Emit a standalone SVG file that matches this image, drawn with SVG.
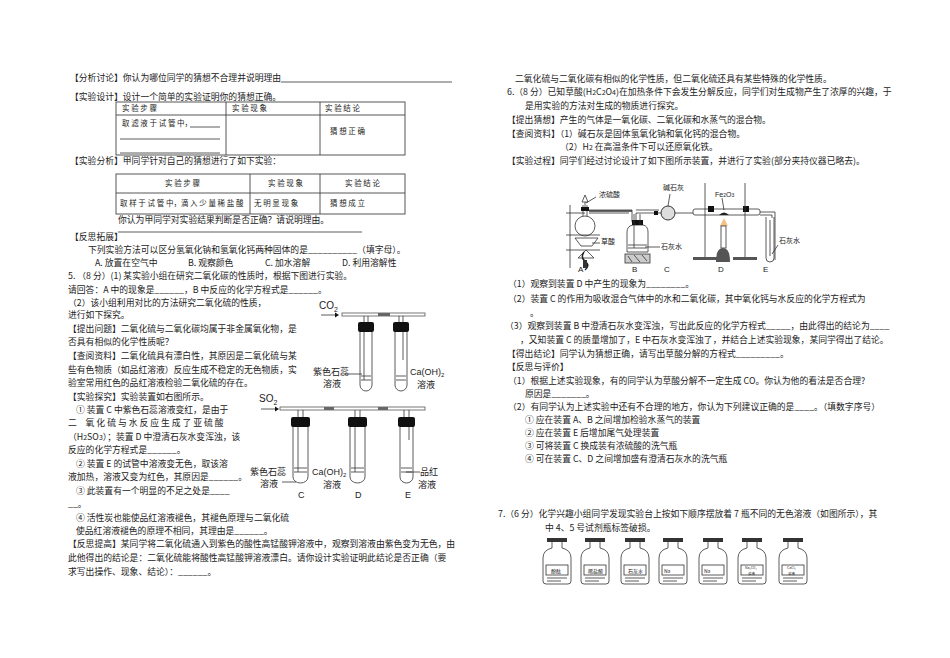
<svg xmlns="http://www.w3.org/2000/svg" width="950" height="658" viewBox="0 0 950 658">
<style>
text{font-family:"Noto Sans CJK SC","Liberation Serif",sans-serif;font-size:8.8px;fill:#222}
.s{font-size:7px}
.l{font-family:"Liberation Sans",sans-serif;font-size:10px}
.ln{stroke:#333;stroke-width:0.8;fill:none}
.tb{stroke:#444;stroke-width:0.9;fill:none}
.bk{fill:#111}
</style>
<rect width="950" height="658" fill="#fff"/>
<g id="left-text">
<text x="70" y="81">【分析讨论】你认为哪位同学的猜想不合理并说明理由</text>
<line class="ln" x1="281" y1="82" x2="452" y2="82"/>
<text x="70" y="100">【实验设计】设计一个简单的实验证明你的猜想正确。</text>
<text x="70" y="164">【实验分析】甲同学针对自己的猜想进行了如下实验：</text>
<text x="118" y="223">你认为甲同学对实验结果判断是否正确？请说明理由。</text>
<line class="ln" x1="118" y1="232" x2="362" y2="232"/>
<text x="70" y="240">【反思拓展】</text>
<text x="88" y="253">下列实验方法可以区分氢氧化钠和氢氧化钙两种固体的是__________（填字母）。</text>
<text x="95" y="266">A. 放置在空气中</text><text x="188" y="266">B. 观察颜色</text><text x="265" y="266">C. 加水溶解</text><text x="342" y="266">D. 利用溶解性</text>
<text x="68" y="279">5. （8 分）(1) 某实验小组在研究二氧化碳的性质时，根据下图进行实验。</text>
<text x="68" y="293">请回答：A 中的现象是______，B 中反应的化学方程式是______。</text>
<text x="68" y="306">（2）该小组利用对比的方法研究二氧化硫的性质，</text>
<text x="68" y="318">进行如下探究。</text>
<text x="68" y="332">【提出问题】二氧化硫与二氧化碳均属于非金属氧化物，是</text>
<text x="68" y="345">否具有相似的化学性质呢？</text>
<text x="68" y="359">【查阅资料】二氧化硫具有漂白性，其原因是二氧化硫与某</text>
<text x="68" y="373">些有色物质（如品红溶液）反应生成不稳定的无色物质，实</text>
<text x="68" y="386">验室常用红色的品红溶液检验二氧化硫的存在。</text>
<text x="68" y="400">【实验探究】实验装置如右图所示。</text>
<text x="76" y="413">① 装置 C 中紫色石蕊溶液变红，是由于</text>
<text x="68" y="426">二　氧 化 硫 与 水 反 应 生 成 了 亚 硫 酸</text>
<text x="68" y="440">（H<tspan class="s">2</tspan>SO<tspan class="s">3</tspan>）；装置 D 中澄清石灰水变浑浊，该</text>
<text x="68" y="453">反应的化学方程式是______。</text>
<text x="76" y="467">② 装置 E 的试管中溶液变无色，取该溶</text>
<text x="68" y="480">液加热，溶液又变为红色，其原因是______。</text>
<text x="76" y="494">③ 此装置有一个明显的不足之处是____</text>
<text x="68" y="507">__。</text>
<text x="76" y="521">④ 活性炭也能使品红溶液褪色，其褪色原理与二氧化硫</text>
<text x="76" y="534">使品红溶液褪色的原理不相同，其理由是______。</text>
<text x="68" y="547">【反思提高】某同学将二氧化硫通入到紫色的酸性高锰酸钾溶液中，观察到溶液由紫色变为无色，由</text>
<text x="68" y="561">此他得出的结论是：二氧化硫能将酸性高锰酸钾溶液漂白。请你设计实验证明此结论是否正确（要</text>
<text x="68" y="575">求写出操作、现象、结论）：______。</text>
</g>
<g id="table1">
<rect class="tb" x="116" y="102" width="289" height="53"/>
<line class="tb" x1="116" y1="115" x2="405" y2="115"/>
<line class="tb" x1="226" y1="102" x2="226" y2="155"/>
<line class="tb" x1="320" y1="102" x2="320" y2="155"/>
<text x="122" y="111" style="font-size:7.5px">实 验 步 骤</text>
<text x="232" y="111" style="font-size:7.5px">实 验 现 象</text>
<text x="325" y="111" style="font-size:7.5px">实 验 结 论</text>
<text x="122" y="126" style="font-size:7.5px">取 滤 液 于 试 管 中，</text>
<line class="ln" x1="190" y1="127" x2="220" y2="127"/>
<line class="ln" x1="120" y1="139" x2="220" y2="139"/>
<line class="ln" x1="120" y1="153" x2="220" y2="153"/>
<text x="330" y="134" style="font-size:7.5px">猜 想 正 确</text>
</g>
<g id="table2">
<rect class="tb" x="116" y="174" width="289" height="40"/>
<line class="tb" x1="116" y1="193" x2="405" y2="193"/>
<line class="tb" x1="250" y1="174" x2="250" y2="214"/>
<line class="tb" x1="320" y1="174" x2="320" y2="214"/>
<text x="165" y="186" style="font-size:7.5px">实 验 步 骤</text>
<text x="268" y="186" style="font-size:7.5px">实 验 现 象</text>
<text x="345" y="186" style="font-size:7.5px">实 验 结 论</text>
<text x="120" y="206" style="font-size:7.5px">取 样 于 试 管 中，滴 入 少 量 稀 盐 酸</text>
<text x="254" y="206" style="font-size:7.5px">无 明 显 现 象</text>
<text x="330" y="206" style="font-size:7.5px">猜 想 成 立</text>
</g>
<g id="co2-apparatus">
<text class="l" x="319" y="309">CO<tspan style="font-size:7px" dy="3">2</tspan></text>
<line class="ln" x1="321" y1="315" x2="335" y2="315"/><path d="M335 312.5 L339 315 L335 317.5Z" class="bk"/>
<rect x="342" y="313" width="83" height="3" fill="#fff" stroke="#555" stroke-width="0.8"/>
<rect x="378" y="313" width="12" height="3" fill="#666"/>
<path class="ln" d="M360 325 V385 a6 6 0 0 0 12 0 V325 M395 325 V385 a6 6 0 0 0 12 0 V325"/>
<path class="ln" d="M364 316 V380 M368 316 V325 M399 316 V325 M403 316 V360"/>
<rect class="bk" x="358" y="322" width="16" height="10" rx="2"/>
<rect class="bk" x="393" y="322" width="16" height="10" rx="2"/>
<path class="ln" d="M361 376 H371 M361 380 H371 M396 376 H406 M396 380 H406"/>
<text x="313" y="375" style="font-size:9px">紫色石蕊</text><text x="323" y="387" style="font-size:9px">溶液</text>
<line class="ln" x1="345" y1="374" x2="362" y2="374"/>
<text class="l" x="410" y="375" style="font-size:9px">Ca(OH)<tspan style="font-size:6px" dy="2">2</tspan></text>
<text x="417" y="388" style="font-size:9px">溶液</text>
</g>
<g id="so2-apparatus">
<text class="l" x="259" y="402">SO<tspan style="font-size:7px" dy="3">2</tspan></text>
<line class="ln" x1="261" y1="409" x2="275" y2="409"/><path d="M275 406.5 L279 409 L275 411.5Z" class="bk"/>
<rect x="280" y="407" width="145" height="3" fill="#fff" stroke="#555" stroke-width="0.8"/>
<rect x="324" y="407" width="10" height="3" fill="#666"/><rect x="378" y="407" width="10" height="3" fill="#666"/>
<path class="ln" d="M293 420 V477 a7.5 6 0 0 0 15 0 V420 M350 420 V477 a7.5 6 0 0 0 15 0 V420 M400 420 V477 a6.5 6 0 0 0 13 0 V420"/>
<path class="ln" d="M298 410 V472 M303 410 V420 M355 410 V472 M360 410 V420 M404 410 V420 M409 410 V440"/>
<rect class="bk" x="291" y="417" width="19" height="10" rx="2"/>
<rect class="bk" x="348" y="417" width="19" height="10" rx="2"/>
<rect class="bk" x="398" y="417" width="17" height="10" rx="2"/>
<path class="ln" d="M294 468 H307 M294 472 H307 M351 468 H364 M351 472 H364 M401 468 H412 M401 472 H412"/>
<text x="250" y="475" style="font-size:9px">紫色石蕊</text><text x="260" y="487" style="font-size:9px">溶液</text>
<text class="l" x="312" y="475" style="font-size:9px">Ca(OH)<tspan style="font-size:6px" dy="2">2</tspan></text>
<text x="323" y="488" style="font-size:9px">溶液</text>
<text x="420" y="475" style="font-size:9px">品红</text><text x="418" y="488" style="font-size:9px">溶液</text>
<line class="ln" x1="282" y1="482" x2="296" y2="482"/><line class="ln" x1="406" y1="472" x2="420" y2="472"/>
<text class="l" x="298" y="498" style="font-size:9px">C</text><text class="l" x="355" y="498" style="font-size:9px">D</text><text class="l" x="405" y="498" style="font-size:9px">E</text>
</g>
<g id="right-text">
<text x="515" y="82">二氧化硫与二氧化碳有相似的化学性质，但二氧化硫还具有某些特殊的化学性质。</text>
<text x="507" y="95">6.（8 分）已知草酸(H<tspan class="s">2</tspan>C<tspan class="s">2</tspan>O<tspan class="s">4</tspan>)在加热条件下会发生分解反应，同学们对生成物产生了浓厚的兴趣，于</text>
<text x="525" y="109">是用实验的方法对生成的物质进行探究。</text>
<text x="507" y="123">【提出猜想】产生的气体是一氧化碳、二氧化碳和水蒸气的混合物。</text>
<text x="507" y="137">【查阅资料】（1）碱石灰是固体氢氧化钠和氧化钙的混合物。</text>
<text x="560" y="150">（2）H<tspan class="s">2</tspan> 在高温条件下可以还原氧化铁。</text>
<text x="507" y="164">【实验过程】同学们经过讨论设计了如下图所示装置，并进行了实验(部分夹持仪器已略去)。</text>
<text x="508" y="287">（1）观察到装置 D 中产生的现象为________。</text>
<text x="508" y="302">（2）装置 C 的作用为吸收混合气体中的水和二氧化碳，其中氧化钙与水反应的化学方程式为</text>
<text x="530" y="316">。</text>
<text x="505" y="329">（3）观察到装置 B 中澄清石灰水变浑浊，写出此反应的化学方程式_____，由此得出的结论为____</text>
<text x="520" y="343">，又知装置 C 的质量增加了，E 中石灰水变浑浊了，并结合上述实验现象，某同学得出了结论。</text>
<text x="507" y="357">【得出结论】同学认为猜想正确，请写出草酸分解的方程式_________。</text>
<text x="507" y="370">【反思与评价】</text>
<text x="508" y="384">（1）根据上述实验现象，有的同学认为草酸分解不一定生成 CO。你认为他的看法是否合理?</text>
<text x="525" y="397">原因是_______。</text>
<text x="508" y="410">（2）有同学认为上述实验中还有不合理的地方，你认为下列建议正确的是____。（填数字序号）</text>
<text x="525" y="423">① 应在装置 A、B 之间增加检验水蒸气的装置</text>
<text x="525" y="436">② 应在装置 E 后增加尾气处理装置</text>
<text x="525" y="449">③ 可将装置 C 换成装有浓硫酸的洗气瓶</text>
<text x="525" y="462">④ 可在装置 C、D 之间增加盛有澄清石灰水的洗气瓶</text>
<text x="498" y="517">7.（6 分）化学兴趣小组同学发现实验台上按如下顺序摆放着 7 瓶不同的无色溶液（如图所示），其</text>
<text x="545" y="531">中 4、5 号试剂瓶标签破损。</text>
</g>
<g id="apparatus-6">
<path class="ln" d="M570 205 V268 M566 213 H585 M566 235 H600 M566 250 H600"/>
<circle class="ln" cx="585" cy="226" r="10"/>
<path class="ln" d="M583 216 V205 M587 216 V205"/>
<rect class="bk" x="581" y="207" width="8" height="4"/>
<path class="ln" d="M585 195 L582 202 H588 Z"/>
<line class="ln" x1="585" y1="202" x2="585" y2="207"/>
<path class="ln" d="M575 238 H598 L592 246 H581Z M578 258 L586 250 L594 258 Z"/>
<path d="M584 252 Q580 258 586 262 Q590 266 585 270" stroke="#222" stroke-width="1.5" fill="none"/>
<rect x="583" y="260" width="4" height="8" fill="#333"/>
<line class="ln" x1="596" y1="197" x2="586" y2="203"/>
<line class="ln" x1="600" y1="243" x2="592" y2="243"/>
<path d="M589 211 H632" stroke="#333" stroke-width="1.5" fill="none"/>
<path class="ln" d="M589 210 H632 V222 M589 213 H629 M636 222 V213 H656 M636 210 H659"/>
<path class="ln" d="M627 232 Q627 226 633 225 H643 Q648 226 648 232 V252 H627 Z"/>
<rect class="bk" x="632" y="220" width="11" height="5"/>
<path class="ln" d="M634 214 V248 M640 214 V225 M628 245 H647 M628 248 H647"/>
<rect x="625" y="254" width="25" height="9" fill="#ccc" stroke="#333" stroke-width="0.8"/>
<path class="ln" d="M628 256 L632 262 M634 255 L640 262 M642 255 L647 261"/>
<line class="ln" x1="645" y1="247" x2="660" y2="247"/>
<circle cx="668" cy="213" r="7" fill="#ddd" stroke="#333" stroke-width="1"/>
<path class="ln" d="M656 213 H661 M675 213 H693"/>
<rect class="bk" x="654" y="211" width="4" height="4"/>
<line class="ln" x1="670" y1="194" x2="668" y2="206"/>
<rect class="ln" x="693" y="209" width="67" height="6" rx="2"/>
<rect x="708" y="206" width="6" height="6" class="bk"/><rect x="743" y="206" width="6" height="6" class="bk"/>
<path class="ln" d="M705 183 V258 M745 183 V258"/>
<rect x="693" y="257" width="24" height="3" fill="#555"/><rect x="733" y="257" width="24" height="3" fill="#555"/>
<path d="M719 215 Q724 210 729 215Z" fill="#222"/>
<path d="M724 218 L720 226 H728 Z" fill="#f3c08a"/>
<rect x="721" y="226" width="5" height="22" fill="#fff" stroke="#333" stroke-width="0.8"/>
<path d="M716 262 Q716 248 723 248 Q730 248 730 262Z" fill="#555"/>
<line class="ln" x1="722" y1="198" x2="724" y2="210"/>
<path class="ln" d="M760 212 H775 V260 M760 215 H772 V218"/>
<path class="ln" d="M766 217 V258 a4 4 0 0 0 8 0 V217"/>
<line class="ln" x1="770" y1="220" x2="770" y2="256"/>
<line class="ln" x1="778" y1="245" x2="772" y2="254"/>
<text style="font-size:7px" x="599" y="197">浓硫酸</text>
<text style="font-size:7px" x="663" y="190">碱石灰</text>
<text class="l" style="font-size:7px" x="715" y="197">Fe<tspan style="font-size:5px">2</tspan>O<tspan style="font-size:5px">3</tspan></text>
<text style="font-size:7px" x="601" y="244">草酸</text>
<text style="font-size:7px" x="661" y="249">石灰水</text>
<text style="font-size:7px" x="779" y="243">石灰水</text>
<text class="l" style="font-size:8px" x="578" y="272">A</text>
<text class="l" style="font-size:8px" x="632" y="272">B</text>
<text class="l" style="font-size:8px" x="664" y="272">C</text>
<text class="l" style="font-size:8px" x="718" y="272">D</text>
<text class="l" style="font-size:8px" x="763" y="272">E</text>
</g>
<g id="bottles">
<defs>
<g id="btl">
<rect x="-10" y="0" width="20" height="4" fill="#333"/>
<path class="ln" d="M-5 4 V10 Q-14 12 -14 20 V43 Q-14 46 -11 46 H11 Q14 46 14 43 V20 Q14 12 5 10 V4" stroke-width="1.2"/>
<rect x="-11" y="27" width="22" height="10" fill="#fff" stroke="#333" stroke-width="0.8"/>
<path class="ln" d="M-10 40 H10 M-10 43 H4"/>
</g>
</defs>
<use href="#btl" x="557" y="538"/><use href="#btl" x="595" y="538"/><use href="#btl" x="635" y="538"/><use href="#btl" x="673" y="538"/><use href="#btl" x="713" y="538"/><use href="#btl" x="752" y="538"/><use href="#btl" x="793" y="538"/>
<text style="font-size:5px" x="551" y="573">酚酞</text>
<text style="font-size:5px" x="588" y="573">稀盐酸</text>
<text style="font-size:5px" x="628" y="573">石灰水</text>
<text style="font-size:5px" x="664" y="573">Na</text>
<text style="font-size:5px" x="704" y="573">Na</text>
<text style="font-size:3.5px" x="745" y="569">Na₂CO₃</text><text style="font-size:3.5px" x="748" y="574.5">溶液</text>
<text style="font-size:3.5px" x="787" y="569">CaCl₂</text><text style="font-size:3.5px" x="788" y="574.5">溶液</text>
</g>
</svg>
